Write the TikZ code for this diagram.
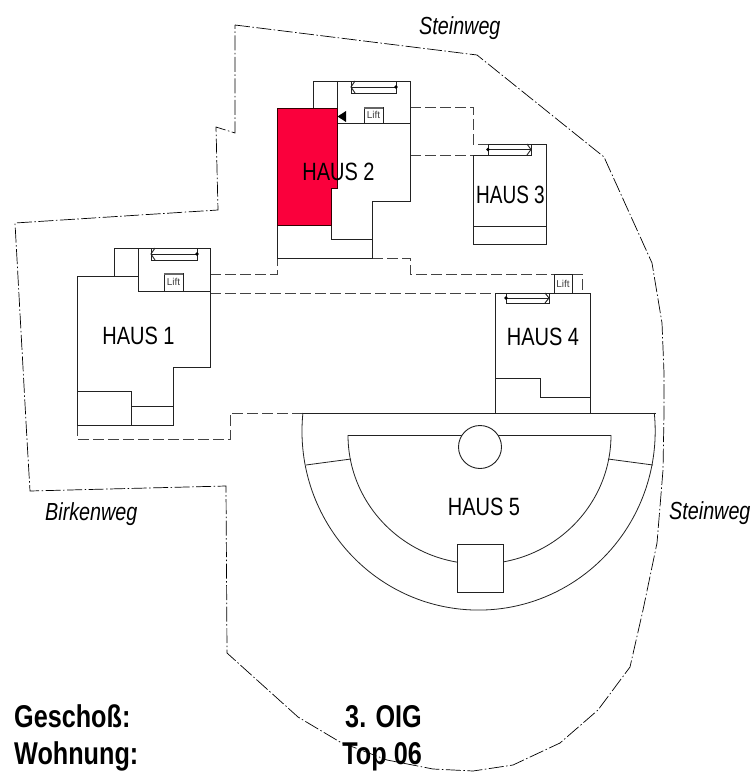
\documentclass[tikz,border=0pt]{standalone}
\usepackage{fontspec}
\usepackage{graphicx}
\setmainfont{Liberation Sans}
\newfontfamily\planfont[FakeStretch=0.8]{Liberation Sans}
\definecolor{topred}{HTML}{FA003C}
\definecolor{wallink}{HTML}{222222}
\tikzset{
  wall/.style={draw=wallink,line width=0.9pt,line join=miter},
  thinline/.style={draw=wallink,line width=0.8pt},
  future/.style={draw=wallink!85!white,line width=0.9pt,dash pattern=on 11pt off 4pt},
  boundary/.style={draw=black,line width=0.7pt,dash pattern=on 15pt off 2.5pt on 1.5pt off 2.5pt},
  houselabel/.style={inner sep=0pt,font=\planfont\fontsize{25}{25}\selectfont},
  streetlabel/.style={inner sep=0pt,anchor=base west,font=\planfont\itshape\fontsize{24.7}{25}\selectfont},
  infolabel/.style={inner sep=0pt,font=\planfont\bfseries\fontsize{31.5}{32}\selectfont},
  liftbox/.style={draw=wallink,line width=0.8pt,fill=white,inner sep=0pt,font=\fontsize{10}{10}\selectfont,text=black!75},
  dotmark/.style={fill=black,draw=none},
}
\newcommand{\elevleft}[4]{% x1 y1 x2 y2: chevron left, dot right
  \draw[wall] (#1,#2) rectangle (#3,#4);
  \draw[wall] ({#1+4},#2) -- (#1,{(#2+#4)/2}) -- ({#1+4},#4);
  \draw[wall] (#1,{(#2+#4)/2}) -- (#3,{(#2+#4)/2});
  \fill[dotmark] (#3,{(#2+#4)/2}) circle (1.8);
}
\newcommand{\elevright}[4]{% x1 y1 x2 y2: dot left, chevron right
  \draw[wall] (#1,#2) rectangle (#3,#4);
  \draw[wall] ({#3-4},#2) -- (#3,{(#2+#4)/2}) -- ({#3-4},#4);
  \draw[wall] (#1,{(#2+#4)/2}) -- (#3,{(#2+#4)/2});
  \fill[dotmark] (#1,{(#2+#4)/2}) circle (1.8);
}
\begin{document}
\begin{tikzpicture}[x=1pt,y=-1pt]
\useasboundingbox (0,0) rectangle (753,773);
% property boundary
\draw[boundary] (235,25) -- (477,55) -- (604,157) -- (652,263) -- (662,323) -- (664,373) -- (664,413)
  -- (663,470) -- (657,543) -- (643,610) -- (630,667) -- (598,710) -- (560,743) -- (513,765)
  -- (473,771) -- (433,769) -- (387,760) -- (340,742) -- (298,717) -- (227,653) -- (226,486)
  -- (30,491) -- (27,440) -- (15,223) -- (218,210) -- (216,127) -- (235,133) -- cycle;
% connecting dashed lines
\draw[future] (210,274) -- (277,274) -- (277,258);
\draw[future] (210,293) -- (495,293);
\draw[future] (372,258) -- (410,258) -- (410,274) -- (554,274);
\draw[future] (572,274) -- (582,274) -- (582,293);
\draw[future] (410,107) -- (473,107) -- (473,144) -- (488,144);
\draw[future] (410,155) -- (473,155);
\draw[future] (77,425) -- (77,439) -- (230,439) -- (230,413) -- (304,413);
% HAUS 5
\draw[thinline] (302.9,413) -- (655.5,413);
\draw[thinline] (302.9,413) arc[start angle=185.8,end angle=-5.8,x radius=176.6,y radius=179];
\draw[thinline] (348,435) -- (611,435);
\draw[thinline] (348,435) arc[start angle=180,end angle=0,x radius=131.5,y radius=129];
\draw[thinline] (306,465) -- (351,459);
\draw[thinline] (608,459) -- (653,465);
\draw[wall,fill=white] (480,447) circle (21.5);
\draw[wall,fill=white] (457,544) rectangle (503,592);
% HAUS 4
\draw[wall] (495,293) rectangle (590,413);
\draw[wall] (495,378) -- (540,378) -- (540,397) -- (590,397);
\elevright{506}{293}{549}{303}
\node[liftbox,minimum width=18pt,minimum height=19pt] (lift4) at (563,283.5) {Lift};
% HAUS 3
\draw[wall] (488,144) -- (546,144) -- (546,244) -- (473,244) -- (473,155) -- (488,155);
\draw[wall] (473,226) -- (546,226);
\elevright{488}{144}{531}{155}
% HAUS 2
\draw[wall] (313,109) -- (313,81) -- (410,81) -- (410,201) -- (372,201) -- (372,258) -- (277,258) -- (277,225);
\draw[wall] (337,81) -- (337,123) -- (410,123);
\draw[wall] (331,225) -- (331,239) -- (372,239);
\draw[draw=black!80!red,line width=1pt,fill=topred] (277,109) -- (337,109) -- (337,188) -- (331,188) -- (331,225) -- (277,225) -- cycle;
\elevleft{351}{81}{396}{93}
\node[liftbox,minimum width=19pt,minimum height=16pt] (lift2) at (373.5,115) {Lift};
\fill[black!60] (364,107) rectangle (383,109);
\fill[black] (346,111) -- (346,122) -- (337.5,116.5) -- cycle;
% HAUS 1
\draw[wall] (114,276) -- (114,248) -- (210,248) -- (210,367) -- (173,367) -- (173,425) -- (77,425) -- (77,276) -- (138,276);
\draw[wall] (138,248) -- (138,291) -- (210,291);
\draw[wall] (77,391) -- (131,391) -- (131,425);
\draw[wall] (131,406) -- (173,406);
\elevleft{151}{248}{197}{260}
\node[liftbox,minimum width=19pt,minimum height=18pt] (lift1) at (173.5,282) {Lift};
\fill[black!60] (164,273) rectangle (183,275);
% labels
\node[houselabel] (h1) at (138.5,336) {HAUS 1};
\node[houselabel] (h2) at (338.5,172) {HAUS 2};
\node[houselabel] (h3) at (510.5,195) {\scalebox{0.95}[1]{HAUS 3}};
\node[houselabel] (h4) at (543,336.5) {HAUS 4};
\node[houselabel] (h5) at (484,507) {HAUS 5};
\node[streetlabel] (s1) at (419,35) {Steinweg};
\node[streetlabel] (s2) at (669,519) {Steinweg};
\node[streetlabel] (s3) at (45,520) {Birkenweg};
\node[infolabel,anchor=base west] (g1) at (14,727) {Geschoß:};
\node[infolabel,anchor=base west] (w1) at (14,764) {Wohnung:};
\node[infolabel,anchor=base east] (g2) at (422,727) {3. OIG};
\node[infolabel,anchor=base east] (w2) at (422,764) {Top 06};
\end{tikzpicture}
\end{document}
